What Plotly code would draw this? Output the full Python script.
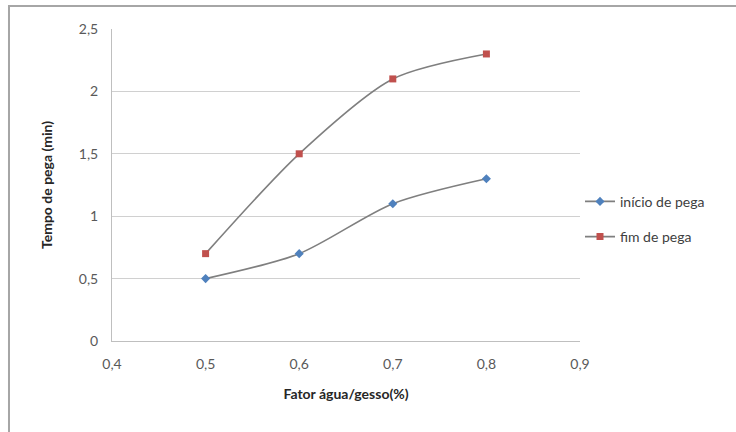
import plotly.graph_objects as go

# Water/plaster ratio and setting times
fator = [0.5, 0.6, 0.7, 0.8]
inicio_pega = [0.5, 0.7, 1.1, 1.3]
fim_pega = [0.7, 1.5, 2.1, 2.3]

x_ticks = [0.4, 0.5, 0.6, 0.7, 0.8, 0.9]
y_ticks = [0, 0.5, 1, 1.5, 2, 2.5]

FONT = "Lato, 'Open Sans', sans-serif"
LINE_GREY = "#7f7f7f"

fig = go.Figure()
fig.add_trace(go.Scatter(
    x=fator, y=inicio_pega, name="início de pega", legendgroup="a",
    mode="lines+markers",
    line=dict(color=LINE_GREY, width=1.6, shape="spline", smoothing=0.8),
    marker=dict(symbol="diamond", size=7, color="#4f81bd"),
))
fig.add_trace(go.Scatter(
    x=fator, y=fim_pega, name="fim de pega", legendgroup="b",
    mode="lines+markers",
    line=dict(color=LINE_GREY, width=1.6, shape="spline", smoothing=0.8),
    marker=dict(symbol="square", size=7, color="#c0504d"),
))

fig.update_layout(
    width=736, height=432,
    margin=dict(l=112, r=156, t=29, b=91),
    paper_bgcolor="white", plot_bgcolor="white",
    separators=",.",
    font=dict(family=FONT, size=14, color="#595959"),
    showlegend=True,
    legend=dict(
        x=1.0, y=0.39, xanchor="left", yanchor="middle",
        font=dict(family=FONT, size=14, color="#404040"),
        bgcolor="rgba(0,0,0,0)", tracegroupgap=14, itemwidth=30,
    ),
    xaxis=dict(
        range=[0.4, 0.9], tickvals=x_ticks, tickformat=".1f",
        showgrid=False, zeroline=False,
        showline=True, linecolor="#bfbfbf", linewidth=1,
        ticks="", ticklabelstandoff=10,
        title=dict(text="<b>Fator água/gesso(%)</b>",
                   font=dict(family=FONT, size=14, color="#262626"), standoff=18),
    ),
    yaxis=dict(
        range=[0, 2.5], tickvals=y_ticks,
        ticktext=["0", "0,5", "1", "1,5", "2", "2,5"],
        showgrid=True, gridcolor="#d0d0d0", gridwidth=1.2, zeroline=False,
        showline=True, linecolor="#bfbfbf", linewidth=1,
        ticks="", ticklabelstandoff=10,
        title=dict(text="<b>Tempo de pega (min)</b>",
                   font=dict(family=FONT, size=14, color="#262626"), standoff=22),
    ),
    shapes=[dict(
        type="rect", xref="paper", yref="paper",
        x0=-0.2201, x1=1.4, y0=-0.5, y1=1.0737,
        line=dict(color="#a6a6a6", width=2), fillcolor="rgba(0,0,0,0)", layer="below",
    )],
)

fig.write_html("out.html")
